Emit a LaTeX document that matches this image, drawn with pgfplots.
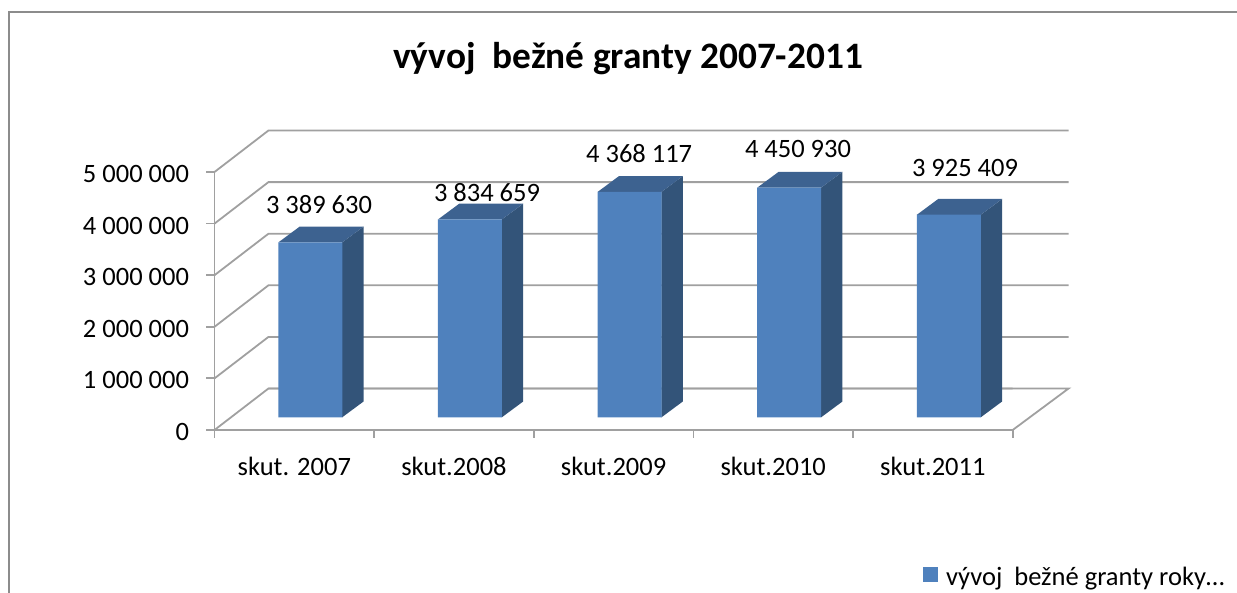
\documentclass[border=0pt]{standalone}
\usepackage{pgfplots}
\usepackage{fontspec}
\setmainfont{Carlito}
\pgfplotsset{compat=1.18}
\definecolor{front}{HTML}{4F81BD}
\definecolor{topc}{HTML}{3D6290}
\definecolor{sidec}{HTML}{335479}
\definecolor{gridc}{HTML}{A0A0A0}
\definecolor{framec}{HTML}{8C8C8C}
\begin{document}
\begin{tikzpicture}[x=1pt,y=1pt]
\path[use as bounding box] (0,0) rectangle (1237,593);
\draw[framec,line width=2pt] (9,0) -- (9,581) -- (1237,581);
\begin{axis}[
  at={(214.5pt,163pt)}, anchor=south west,
  scale only axis, width=798.2pt, height=258pt,
  xmin=0, xmax=5, ymin=0, ymax=5000000,
  clip=false, scaled y ticks=false,
  axis x line=bottom, axis y line=left,
  axis line style={-, draw=gridc, line width=1.8pt},
  xtick={0.5,1.5,2.5,3.5,4.5},
  xticklabels={skut. 2007,skut.2008,skut.2009,skut.2010,skut.2011},
  minor xtick={0,1,2,3,4,5},
  ytick={0,1000000,2000000,3000000,4000000,5000000},
  yticklabels={0,1 000 000,2 000 000,3 000 000,4 000 000,5 000 000},
  major x tick style={draw=none},
  minor x tick style={draw=gridc, line width=1.8pt},
  y tick style={draw=gridc, line width=1.8pt},
  tick align=outside,
  minor tick length=8pt, major tick length=8pt,
  tick label style={font=\fontsize{26.5}{30}\selectfont, text=black},
  xticklabel style={yshift=-16pt},
  yticklabel style={xshift=-14pt, yshift=-2pt},
  legend style={draw=none, fill=none, at={(1012pt,-159pt)}, anchor=south east, inner sep=0pt,
    font=\fontsize{26.5}{30}\selectfont, /tikz/every even column/.style={column sep=0pt}},
  legend cell align=left,
  legend image code/.code={\fill[front] (0pt,-18pt) rectangle (15pt,-3pt);},
]
% walls and floor
\addplot[gridc, line width=1.8pt, forget plot] coordinates {(0,0)(0.338,804000)(5.0,804000)};
\addplot[gridc, line width=1.8pt, forget plot] coordinates {(0.338,804000)(5.35,804000)(5,0)};
\addplot[gridc, line width=1.8pt, forget plot] coordinates {(0,1000000)(0.338,1804000)(5.35,1804000)};
\addplot[gridc, line width=1.8pt, forget plot] coordinates {(0,2000000)(0.338,2804000)(5.35,2804000)};
\addplot[gridc, line width=1.8pt, forget plot] coordinates {(0,3000000)(0.338,3804000)(5.35,3804000)};
\addplot[gridc, line width=1.8pt, forget plot] coordinates {(0,4000000)(0.338,4804000)(5.35,4804000)};
\addplot[gridc, line width=1.8pt, forget plot] coordinates {(0,5000000)(0.338,5804000)(5.35,5804000)};
% side faces
\addplot[fill=sidec, draw=none, forget plot] coordinates {(0.8,246000)(0.9335,552000)(0.9335,3941630)(0.8,3635630)} -- cycle;
\addplot[fill=sidec, draw=none, forget plot] coordinates {(1.8,246000)(1.9335,552000)(1.9335,4386659)(1.8,4080659)} -- cycle;
\addplot[fill=sidec, draw=none, forget plot] coordinates {(2.8,246000)(2.9335,552000)(2.9335,4920117)(2.8,4614117)} -- cycle;
\addplot[fill=sidec, draw=none, forget plot] coordinates {(3.8,246000)(3.9335,552000)(3.9335,5002930)(3.8,4696930)} -- cycle;
\addplot[fill=sidec, draw=none, forget plot] coordinates {(4.8,246000)(4.9335,552000)(4.9335,4477409)(4.8,4171409)} -- cycle;
% top faces
\addplot[fill=topc, draw=none, forget plot] coordinates {(0.4,3635630)(0.8,3635630)(0.9335,3941630)(0.5335,3941630)} -- cycle;
\addplot[fill=topc, draw=none, forget plot] coordinates {(1.4,4080659)(1.8,4080659)(1.9335,4386659)(1.5335,4386659)} -- cycle;
\addplot[fill=topc, draw=none, forget plot] coordinates {(2.4,4614117)(2.8,4614117)(2.9335,4920117)(2.5335,4920117)} -- cycle;
\addplot[fill=topc, draw=none, forget plot] coordinates {(3.4,4696930)(3.8,4696930)(3.9335,5002930)(3.5335,5002930)} -- cycle;
\addplot[fill=topc, draw=none, forget plot] coordinates {(4.4,4171409)(4.8,4171409)(4.9335,4477409)(4.5335,4477409)} -- cycle;
% front faces
\addplot[ybar, bar width=64pt, bar shift=0pt, fill=front, draw=none, yshift=12.7pt] coordinates {
  (0.6,3389630)(1.6,3834659)(2.6,4368117)(3.6,4450930)(4.6,3925409)};
\addlegendentry{\hspace{6pt}vývoj\ \ bežné granty roky…}
\node[font=\fontsize{26.5}{30}\selectfont] at (axis cs:0.6546,4360000) {3 389 630};
\node[font=\fontsize{26.5}{30}\selectfont] at (axis cs:1.7070,4593000) {3 834 659};
\node[font=\fontsize{26.5}{30}\selectfont] at (axis cs:2.66,5349000) {4 368 117};
\node[font=\fontsize{26.5}{30}\selectfont] at (axis cs:3.6551,5446000) {4 450 930};
\node[font=\fontsize{26.5}{30}\selectfont] at (axis cs:4.7013,5078000) {3 925 409};
\end{axis}
\node[font=\fontsize{37.3}{44}\selectfont\bfseries] at (628,534) {vývoj\ \ bežné granty 2007-2011};
\end{tikzpicture}
\end{document}
